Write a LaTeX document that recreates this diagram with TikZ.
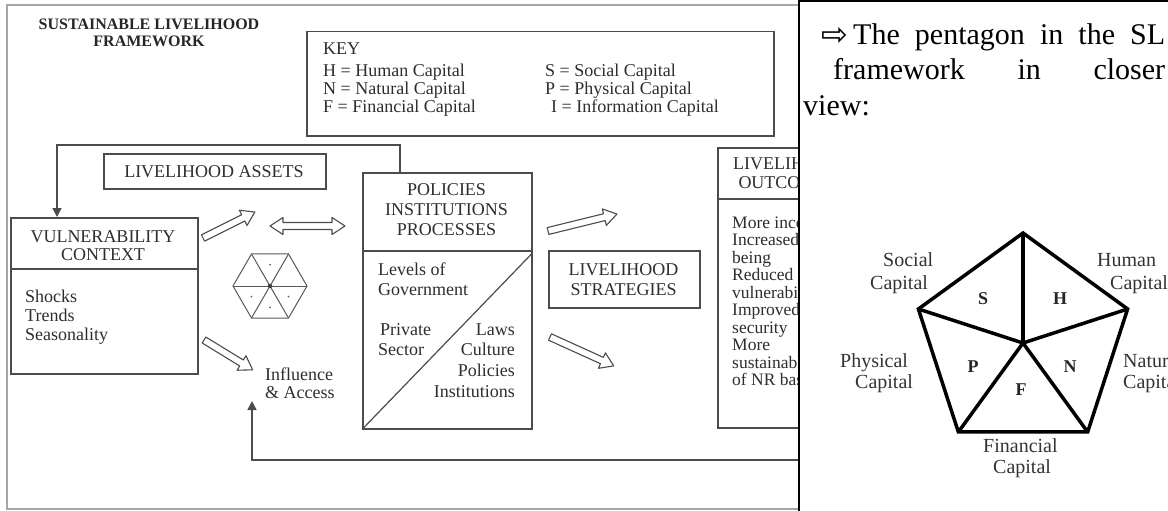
\documentclass[tikz,border=0pt]{standalone}
\usepackage{fontspec}
\setmainfont{Liberation Serif}
\newfontfamily\dejavu{DejaVu Sans}
\usetikzlibrary{arrows.meta}
\tikzset{
  boxline/.style={draw=black!70, line width=1.5pt},
  box/.style={boxline, rectangle, inner sep=0pt, anchor=north west},
  txt/.style={inner sep=0pt, text=black!82, font=\fontsize{18}{19.5}\selectfont},
  otxt/.style={inner sep=0pt, text=black!82, font=\fontsize{17.5}{17.5}\selectfont, anchor=base west},
  ttl/.style={inner sep=0pt, text=black!85, font=\bfseries\fontsize{16}{17}\selectfont, anchor=base},
  harrow/.style={draw=black!70, line width=1.1pt, fill=white, line join=round},
  hexline/.style={draw=black!65, line width=1pt},
  conn/.style={draw=black!70, line width=1.5pt},
  tip/.style={-{Triangle[length=9pt,width=9pt]}},
  frame/.style={draw=black!35, line width=2.5pt},
  rtxt/.style={inner sep=0pt, text=black, font=\fontsize{30}{30}\selectfont, anchor=base west},
  plab/.style={inner sep=0pt, text=black!80, font=\fontsize{20}{20}\selectfont, anchor=base west},
  pletter/.style={inner sep=0pt, text=black!85, font=\bfseries\fontsize{18}{18}\selectfont},
  pent/.style={draw=black, line width=3.5pt}
}
\newcommand\hollowarr[4]{%
  \begin{scope}[shift={(#1,#2)},rotate=#3]
    \draw[harrow] (0,-3.5) -- (#4-13,-3.5) -- (#4-13,-8.5) -- (#4,0) -- (#4-13,8.5) -- (#4-13,3.5) -- (0,3.5) -- cycle;
  \end{scope}}
\begin{document}
\begin{tikzpicture}[x=1pt,y=1pt]
\useasboundingbox (0,0) rectangle (1168,-511);
\fill[white] (0,0) rectangle (1168,-511);

\begin{scope}
\clip (0,0) rectangle (798,-511);
% outer frame
\draw[frame] (800,-5) -- (7,-5) -- (7,-509) -- (800,-509);

% title
\node[ttl] (t1) at (149,-30) {SUSTAINABLE LIVELIHOOD};
\node[ttl] (t2) at (149,-47) {FRAMEWORK};

% key
\node[box, minimum width=467pt, minimum height=104pt] (key) at (306,-31) {};
\node[txt, anchor=base west] (k0) at (323,-55) {KEY};
\node[txt, anchor=base west] (k1) at (323,-77) {H = Human Capital};
\node[txt, anchor=base west] (k2) at (323,-95) {N = Natural Capital};
\node[txt, anchor=base west] (k3) at (323,-113) {F = Financial Capital};
\node[txt, anchor=base west] (k4) at (545,-77) {S = Social Capital};
\node[txt, anchor=base west] (k5) at (545,-95) {P = Physical Capital};
\node[txt, anchor=base west] (k6) at (551,-113) {I = Information Capital};

% livelihood assets
\node[box, minimum width=222pt, minimum height=35pt] (assets) at (103,-153) {};
\node[txt, anchor=base] (assetst) at (214,-177) {LIVELIHOOD ASSETS};

% vulnerability context
\node[box, minimum width=187pt, minimum height=156pt] (vul) at (10,-217) {};
\draw[boxline] ([yshift=-52pt]vul.north west) -- ([yshift=-52pt]vul.north east);
\node[txt, anchor=base] (v1) at (103,-242) {VULNERABILITY};
\node[txt, anchor=base] (v2) at (103,-260) {CONTEXT};
\node[txt, anchor=base west] (v3) at (25,-302) {Shocks};
\node[txt, anchor=base west] (v4) at (25,-321) {Trends};
\node[txt, anchor=base west] (v5) at (25,-340) {Seasonality};

% policies
\node[box, minimum width=169pt, minimum height=256pt] (pol) at (362,-172) {};
\draw[boxline] ([yshift=-79pt]pol.north west) -- ([yshift=-79pt]pol.north east);
\draw[boxline, line width=1.2pt] (pol.south west) -- ([yshift=-81pt]pol.north east);
\node[txt, anchor=base] (p1) at (446.5,-195) {POLICIES};
\node[txt, anchor=base] (p2) at (446.5,-215) {INSTITUTIONS};
\node[txt, anchor=base] (p3) at (446.5,-235) {PROCESSES};
\node[txt, anchor=base west] (p4) at (378,-275) {Levels of};
\node[txt, anchor=base west] (p5) at (378,-295) {Government};
\node[txt, anchor=base west] (p6) at (380,-335) {Private};
\node[txt, anchor=base west] (p7) at (378,-355) {Sector};
\node[txt, anchor=base east] (p8) at (515,-335) {Laws};
\node[txt, anchor=base east] (p9) at (515,-355) {Culture};
\node[txt, anchor=base east] (p10) at (515,-376) {Policies};
\node[txt, anchor=base east] (p11) at (515,-397) {Institutions};

% strategies
\node[box, minimum width=151pt, minimum height=57pt] (strat) at (548,-250) {};
\node[txt, anchor=base] (s1) at (623.5,-275) {LIVELIHOOD};
\node[txt, anchor=base] (s2) at (623.5,-295) {STRATEGIES};

% outcomes
\node[box, minimum width=142pt, minimum height=280pt] (out) at (717,-147) {};
\draw[boxline] ([yshift=-52pt]out.north west) -- ([yshift=-52pt]out.north east);
\node[txt, anchor=base] (o1) at (788,-169) {LIVELIHOOD};
\node[txt, anchor=base] (o2) at (788,-188) {OUTCOMES};
\node[otxt] (o3) at (732,-228) {More income};
\node[otxt] (o4) at (732,-245.5) {Increased well-};
\node[otxt] (o5) at (732,-263) {being};
\node[otxt] (o6) at (732,-280.5) {Reduced};
\node[otxt] (o7) at (732,-298) {vulnerability};
\node[otxt] (o8) at (732,-315.5) {Improved food};
\node[otxt] (o9) at (732,-333) {security};
\node[otxt] (o10) at (732,-350.5) {More};
\node[otxt] (o11) at (732,-368) {sustainable use};
\node[otxt] (o12) at (732,-385.5) {of NR base};

% hexagon
\coordinate (hx) at (270,-286);
\draw[hexline] (hx) +(0:37) -- +(60:37) -- +(120:37) -- +(180:37) -- +(240:37) -- +(300:37) -- cycle;
\draw[hexline] (hx) +(0:37) -- +(180:37);
\draw[hexline] (hx) +(60:37) -- +(240:37);
\draw[hexline] (hx) +(120:37) -- +(300:37);
\fill[black!75] (hx) circle (2.2pt);
\foreach \a in {90,210,270,330} \fill[black!60] (hx) ++(\a:21.4) circle (1pt);

% influence & access
\node[txt, anchor=base west] (inf1) at (265,-380) {Influence};
\node[txt, anchor=base west] (inf2) at (265,-398) {\& Access};

% hollow arrows
\hollowarr{203}{-238}{26.6}{58}
\hollowarr{204}{-340}{-31.5}{57}
\hollowarr{548}{-231}{13.8}{71}
\hollowarr{550}{-337}{-24.4}{70}
\draw[harrow] (270,-226) -- (283,-217.5) -- (283,-222.5) -- (332,-222.5) -- (332,-217.5) -- (345,-226) -- (332,-234.5) -- (332,-229.5) -- (283,-229.5) -- (283,-234.5) -- cycle;

% connectors
\coordinate (jr) at (400,-145);
\coordinate (jl) at (57,-145);
\draw[conn, tip] (pol.north -| jr) -- (jr) -- (jl) -- (vul.north -| jl);
\coordinate (fb) at (800,-460);
\coordinate (fbtip) at (252,-401);
\draw[conn, tip] (fb) -| (fbtip);
\end{scope}

% right panel
\draw[black, line width=2.5pt] (799,-513) -- (799,-1.2) -- (1170,-1.2);
\node[rtxt] (r0) at (821,-46) {{\dejavu\fontsize{32}{32}\selectfont ⇨}};
\node[rtxt] (r1) at (853,-45) {\hbox to 312pt{The\hfill pentagon\hfill in\hfill the\hfill SL}};
\node[rtxt] (r2) at (833,-80) {\hbox to 332pt{framework\hfill in\hfill closer}};
\node[rtxt] (r3) at (803,-115) {view:};

% pentagon
\coordinate (pc) at (1023,-343);
\path (pc) +(90:110) coordinate (v1)
           +(18:110) coordinate (v2)
           +(-54:110) coordinate (v3)
           +(-126:110) coordinate (v4)
           +(162:110) coordinate (v5);
\draw[pent] (v1) -- (v2) -- (v3) -- (v4) -- (v5) -- cycle;
\foreach \v in {v1,v2,v3,v4,v5} \draw[pent] (pc) -- (\v);
\node[pletter] (lS) at (983,-299) {S};
\node[pletter] (lH) at (1060,-299) {H};
\node[pletter] (lP) at (973,-367) {P};
\node[pletter] (lN) at (1070,-367) {N};
\node[pletter] (lF) at (1021,-390) {F};
\node[plab] (q1) at (883,-266) {Social};
\node[plab] (q2) at (870,-289) {Capital};
\node[plab] (q3) at (1097,-266) {Human};
\node[plab] (q4) at (1110,-289) {Capital};
\node[plab] (q5) at (1123,-367) {Natural};
\node[plab] (q6) at (1123,-388) {Capital};
\node[plab] (q7) at (840,-367) {Physical};
\node[plab] (q8) at (855,-388) {Capital};
\node[plab] (q9) at (983,-452) {Financial};
\node[plab] (q10) at (993,-473) {Capital};
\end{tikzpicture}
\end{document}
